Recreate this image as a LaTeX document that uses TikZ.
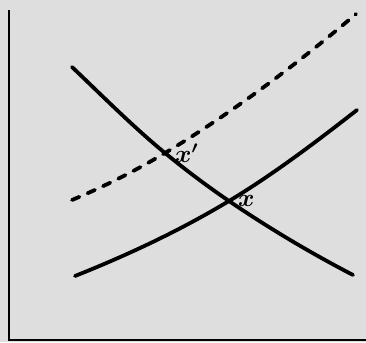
\documentclass[tikz,border=0pt]{standalone}
\usepackage{xcolor}
\usepackage{tikz}
\usetikzlibrary{positioning}
\definecolor{paper}{RGB}{222,222,222}

\begin{document}
\begin{tikzpicture}[x=1pt, y=-1pt,
  axis/.style={line width=2.5pt},
  curve/.style={line width=3.8pt, line cap=round},
  shifted/.style={curve, dash pattern=on 8pt off 9pt},
  lbl/.style={font=\fontsize{26}{30}\selectfont\boldmath, inner sep=0pt}]
\fill[paper] (0,0) rectangle (366,342);
\useasboundingbox (0,0) rectangle (366,342);
% axes
\coordinate (top) at (9,10); \coordinate (o) at (9,340); \coordinate (end) at (366,340);
\draw[axis] (top) -- (o) -- (end);
% equilibrium points
\coordinate (xp) at (165,153); \coordinate (x) at (229,201);
% falling curve
\draw[curve] (72,67) .. controls (103,96.5) and (134,127.6) .. (xp)
  .. controls (186.3,170.5) and (207.7,186.5) .. (x)
  .. controls (270.3,229.1) and (311.7,253.5) .. (353,275);
% rising curve and shifted one
\draw[curve] (75,276) .. controls (126.3,255.5) and (177.7,231.8) .. (x)
  .. controls (271.7,175.4) and (314.3,143.3) .. (357,110);
\draw[shifted] (72,200) .. controls (103,187) and (134,171.6) .. (xp)
  .. controls (228.7,114.8) and (292.3,68.1) .. (356,14);
\node[lbl, right=10pt of xp] (lxp) {$x'$};
\node[lbl, right=9pt of x] (lx) {$x$};
\end{tikzpicture}
\end{document}
